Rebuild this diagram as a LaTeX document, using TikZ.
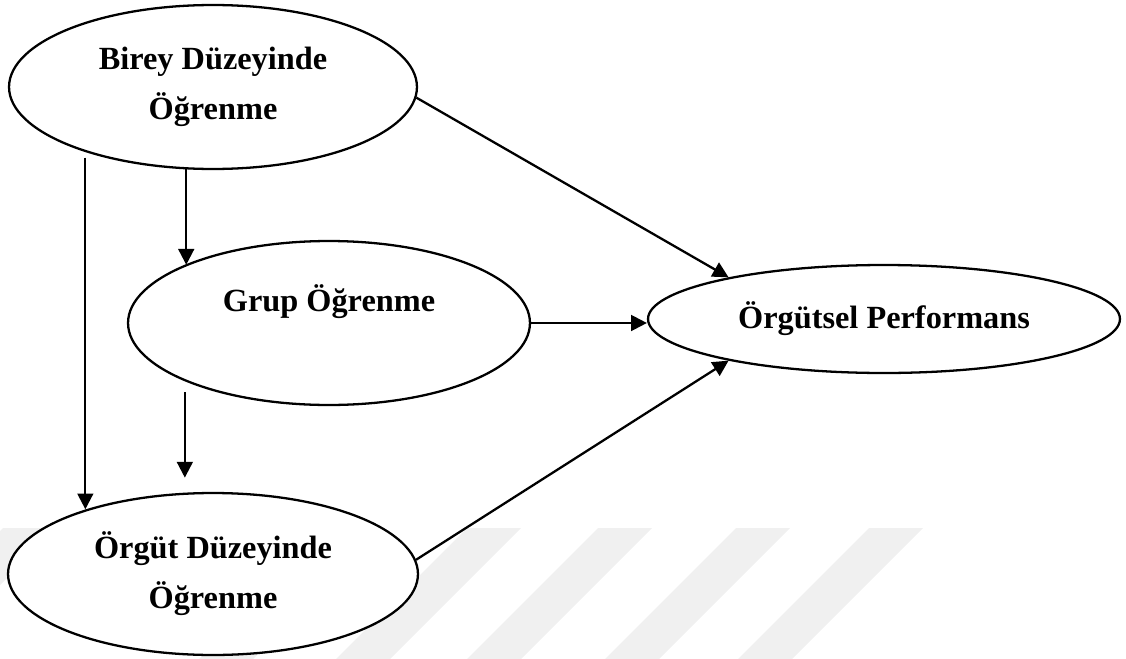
\documentclass[tikz,border=0pt]{standalone}
\usepackage{fontspec}
\setmainfont{Liberation Serif}
\usetikzlibrary{arrows.meta,shapes.geometric}

\begin{document}
\begin{tikzpicture}[x=0.02cm, y=-0.02cm,
  oval/.style={draw=black, fill=white, ellipse, line width=1.3pt, inner sep=0pt,
               font=\fontsize{18.4pt}{28.5pt}\selectfont\bfseries, align=center},
  arr/.style={-{Triangle[length=9pt,width=9pt]}, line width=1.3pt},
  wmark/.style={fill=black!6}
]
  \useasboundingbox (0,0) rectangle (1126,659);

  % watermark stripes
  \foreach \xr in {57,384,521,652,790,923}
    \fill[wmark] (\xr-54,528) -- (\xr,528) -- (\xr-131,659) -- (\xr-185,659) -- cycle;

  \node[oval, minimum width=8.16cm, minimum height=3.28cm] (birey) at (213,87)  {Birey Düzeyinde\\Öğrenme};
  \node[oval, minimum width=8.04cm, minimum height=3.28cm] (grup)  at (329,323) {Grup Öğrenme\\\phantom{G}};
  \node[oval, minimum width=9.44cm, minimum height=2.16cm] (perf)  at (884,319) {Örgütsel Performans};
  \node[oval, minimum width=8.2cm,  minimum height=3.24cm] (orgut) at (213,574) {Örgüt Düzeyinde\\Öğrenme};

  \draw[arr] (birey.-3) -- (perf.165);
  \draw[arr] (grup.east) -- (grup.east -| perf.west);
  \draw[arr] (orgut.4) -- (perf.195);

  \draw[arr, shorten <=0.11cm] (birey.207) -- (birey.207 |- orgut.153);
  \draw[arr] (birey.252) -- (birey.252 |- grup.158);
  \draw[arr, shorten <=0.22cm, shorten >=0.3cm] (grup.202) -- (grup.202 |- orgut.109);
\end{tikzpicture}
\end{document}
